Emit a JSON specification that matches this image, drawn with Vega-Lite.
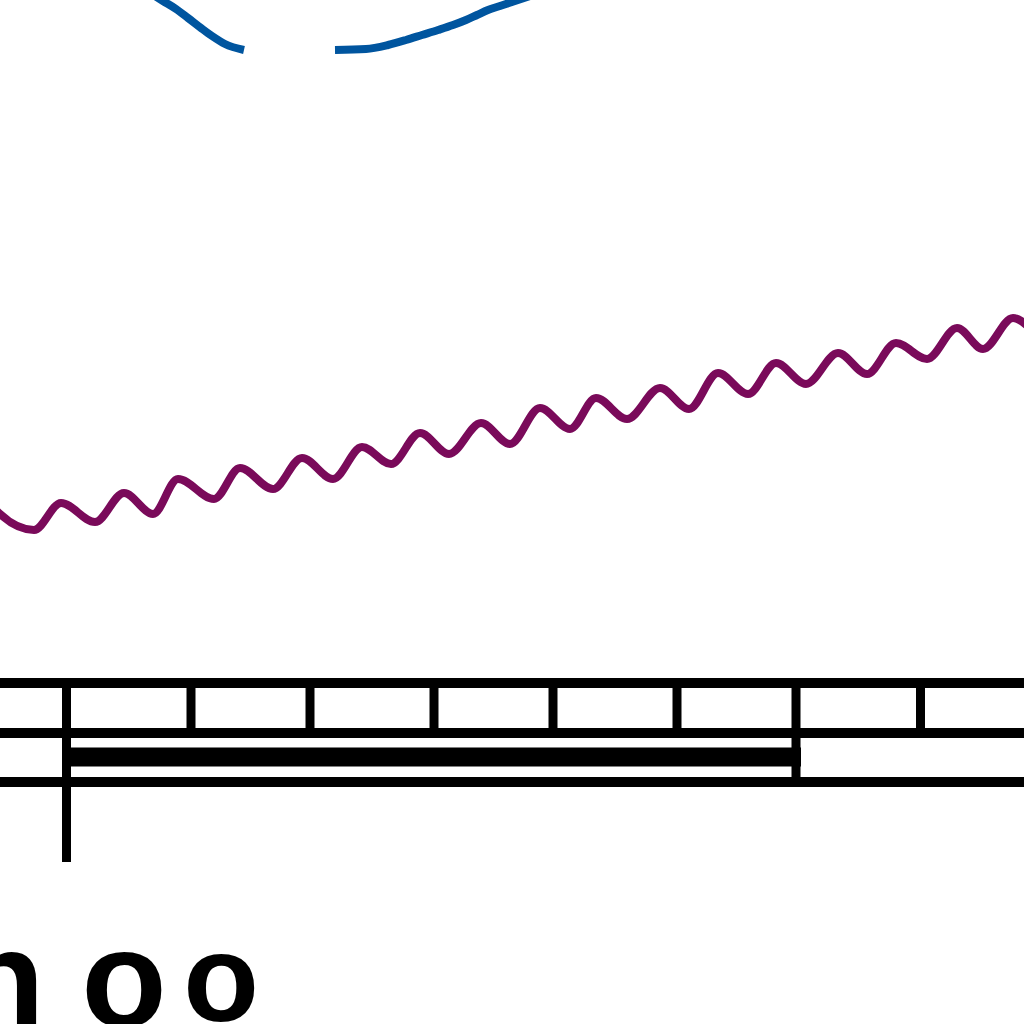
{
  "$schema": "https://vega.github.io/schema/vega-lite/v6.json",
  "width": 1024,
  "height": 1024,
  "autosize": {"type": "fit", "contains": "padding"},
  "padding": 0,
  "background": "white",
  "config": {"view": {"stroke": null}},
  "datasets": {
    "purple": [
      {"x": -5, "y": 509}, {"x": 0, "y": 514}, {"x": 34, "y": 530}, {"x": 61, "y": 503}, {"x": 95, "y": 522}, {"x": 124, "y": 493},
      {"x": 153, "y": 514}, {"x": 178, "y": 479}, {"x": 214, "y": 499}, {"x": 240, "y": 468},
      {"x": 273, "y": 489}, {"x": 302, "y": 458}, {"x": 333, "y": 479}, {"x": 362, "y": 447},
      {"x": 391, "y": 464}, {"x": 420, "y": 433}, {"x": 449, "y": 454}, {"x": 481, "y": 423},
      {"x": 510, "y": 444}, {"x": 540, "y": 408}, {"x": 570, "y": 429}, {"x": 596, "y": 398},
      {"x": 627, "y": 419}, {"x": 660, "y": 388}, {"x": 689, "y": 409}, {"x": 718, "y": 373},
      {"x": 748, "y": 394}, {"x": 776, "y": 363}, {"x": 806, "y": 384}, {"x": 838, "y": 353},
      {"x": 867, "y": 374}, {"x": 896, "y": 343}, {"x": 927, "y": 359}, {"x": 957, "y": 328},
      {"x": 983, "y": 349}, {"x": 1013, "y": 318}, {"x": 1030, "y": 328}
    ],
    "blue": [
      {"seg": "a", "x": 155, "y": -4}, {"seg": "a", "x": 163, "y": 1}, {"seg": "a", "x": 176, "y": 9},
      {"seg": "a", "x": 188, "y": 18}, {"seg": "a", "x": 201, "y": 28}, {"seg": "a", "x": 212, "y": 36},
      {"seg": "a", "x": 225, "y": 44}, {"seg": "a", "x": 244, "y": 50},
      {"seg": "b", "x": 335, "y": 50}, {"seg": "b", "x": 366, "y": 49}, {"seg": "b", "x": 388, "y": 45},
      {"seg": "b", "x": 406, "y": 40}, {"seg": "b", "x": 422, "y": 35}, {"seg": "b", "x": 438, "y": 30},
      {"seg": "b", "x": 453, "y": 25}, {"seg": "b", "x": 466, "y": 20}, {"seg": "b", "x": 477, "y": 15},
      {"seg": "b", "x": 488, "y": 10}, {"seg": "b", "x": 500, "y": 6}, {"seg": "b", "x": 512, "y": 2},
      {"seg": "b", "x": 530, "y": -4}
    ],
    "hlines": [{"y": 683}, {"y": 733}, {"y": 782}],
    "bar": [{"x": 62, "x2": 801, "y": 757}],
    "ticks": [
      {"x": 66.5, "y": 683, "y2": 862}, {"x": 191, "y": 683, "y2": 733}, {"x": 310, "y": 683, "y2": 733},
      {"x": 434, "y": 683, "y2": 733}, {"x": 553, "y": 683, "y2": 733}, {"x": 677, "y": 683, "y2": 733},
      {"x": 796, "y": 683, "y2": 782}, {"x": 920.5, "y": 683, "y2": 733}
    ],
    "boldtext": [{"label": "n", "x": 2, "y": 1027}, {"label": "o", "x": 124, "y": 1027}],
    "lighttext": [{"label": "o", "x": 221, "y": 1021}]
  },
  "layer": [
    {
      "data": {"name": "purple"},
      "mark": {"type": "line", "color": "#7a0a5a", "strokeWidth": 8, "interpolate": "monotone", "clip": true},
      "encoding": {
        "x": {"field": "x", "type": "quantitative", "scale": {"domain": [0, 1024], "nice": false, "zero": false}, "axis": null},
        "y": {"field": "y", "type": "quantitative", "scale": {"domain": [0, 1024], "nice": false, "zero": false, "reverse": true}, "axis": null}
      }
    },
    {
      "data": {"name": "blue"},
      "mark": {"type": "line", "color": "#00559f", "strokeWidth": 8, "interpolate": "monotone", "clip": true},
      "encoding": {
        "x": {"field": "x", "type": "quantitative", "scale": {"domain": [0, 1024], "nice": false, "zero": false}, "axis": null},
        "y": {"field": "y", "type": "quantitative", "scale": {"domain": [0, 1024], "nice": false, "zero": false, "reverse": true}, "axis": null},
        "detail": {"field": "seg", "type": "nominal"}
      }
    },
    {
      "data": {"name": "hlines"},
      "mark": {"type": "rule", "color": "#000000", "strokeWidth": 10, "clip": true},
      "encoding": {
        "y": {"field": "y", "type": "quantitative", "scale": {"domain": [0, 1024], "nice": false, "zero": false, "reverse": true}, "axis": null}
      }
    },
    {
      "data": {"name": "bar"},
      "mark": {"type": "rule", "color": "#000000", "strokeWidth": 19, "clip": true},
      "encoding": {
        "x": {"field": "x", "type": "quantitative", "scale": {"domain": [0, 1024], "nice": false, "zero": false}, "axis": null},
        "x2": {"field": "x2"},
        "y": {"field": "y", "type": "quantitative", "scale": {"domain": [0, 1024], "nice": false, "zero": false, "reverse": true}, "axis": null}
      }
    },
    {
      "data": {"name": "ticks"},
      "mark": {"type": "rule", "color": "#000000", "strokeWidth": 9, "clip": true},
      "encoding": {
        "x": {"field": "x", "type": "quantitative", "scale": {"domain": [0, 1024], "nice": false, "zero": false}, "axis": null},
        "y": {"field": "y", "type": "quantitative", "scale": {"domain": [0, 1024], "nice": false, "zero": false, "reverse": true}, "axis": null},
        "y2": {"field": "y2"}
      }
    },
    {
      "data": {"name": "boldtext"},
      "mark": {"type": "text", "color": "#000000", "font": "Liberation Sans", "fontWeight": "bold", "fontSize": 140, "align": "center", "baseline": "alphabetic", "clip": true},
      "encoding": {
        "x": {"field": "x", "type": "quantitative", "scale": {"domain": [0, 1024], "nice": false, "zero": false}, "axis": null},
        "y": {"field": "y", "type": "quantitative", "scale": {"domain": [0, 1024], "nice": false, "zero": false, "reverse": true}, "axis": null},
        "text": {"field": "label"}
      }
    },
    {
      "data": {"name": "lighttext"},
      "mark": {"type": "text", "color": "#000000", "font": "Liberation Sans", "fontWeight": "bold", "fontSize": 124, "align": "center", "baseline": "alphabetic", "clip": true},
      "encoding": {
        "x": {"field": "x", "type": "quantitative", "scale": {"domain": [0, 1024], "nice": false, "zero": false}, "axis": null},
        "y": {"field": "y", "type": "quantitative", "scale": {"domain": [0, 1024], "nice": false, "zero": false, "reverse": true}, "axis": null},
        "text": {"field": "label"}
      }
    }
  ]
}
